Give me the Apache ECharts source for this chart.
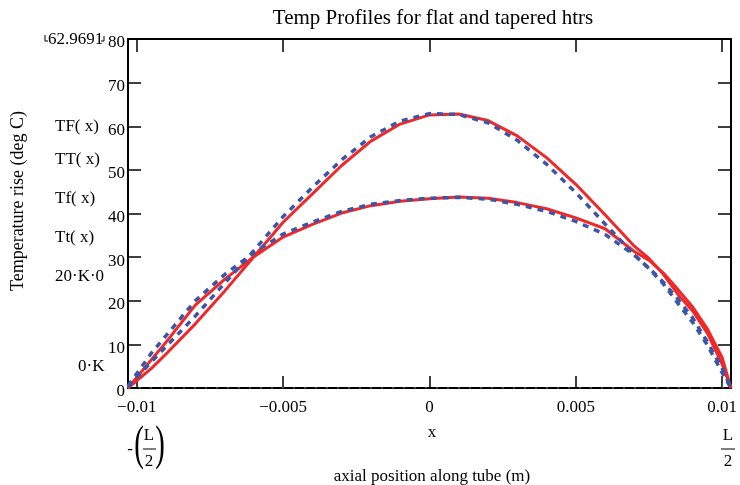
<!DOCTYPE html>
<html><head><meta charset="utf-8">
<script src="https://cdn.jsdelivr.net/npm/echarts@6/dist/echarts.min.js"></script>
<style>html,body{margin:0;padding:0;background:#fff}#c{width:740px;height:485px}</style>
</head><body><div id="c"></div>
<script>
// positions along tube (m)
var xPos = [-0.0103,-0.0095,-0.009,-0.008,-0.007,-0.006,-0.005,-0.004,-0.003,-0.002,-0.001,0,0.001,0.002,0.003,0.004,0.005,0.006,0.007,0.0075,0.008,0.0085,0.009,0.0095,0.01,0.0103];
// temperature rise (deg C)
var TF = [0,4.5,7.8,14.7,22.2,30.1,38,44.5,51,56.6,60.5,62.6,62.8,61.3,57.8,52.8,46.7,39.7,32.5,29.7,26,21.4,17.6,12.5,5.5,0];
var TT = [0.3,6,9.5,16.5,24,31.5,39.3,46,52.3,57.6,61.2,62.9,62.7,60.8,56.8,51.3,44.8,37.6,30.5,27.4,23.8,19.3,15,9.8,3.5,0];
var Tf = [0,6.5,10.5,19,24.9,30.1,34.6,37.5,40.1,41.8,42.8,43.4,43.8,43.5,42.5,41.1,39,36.5,31.3,29.3,26.3,22.5,18.5,13.5,7,0];
var Tt = [0.5,8,12,20,26,31,35.3,38,40.5,42.1,43,43.5,43.7,43.3,42.1,40.5,38.2,35.2,30.5,27.5,24.2,20.3,16,10.5,4.5,0];
var zeroLine = [0,0];
var zeroX = [-0.0103,0.0103];
var xTicks = [-0.01,-0.005,0,0.005,0.01];
var yMin = 0, yMax = 80, yStep = 10;
var xMin = -0.0103, xMax = 0.0103;

function pairs(xs, ys){ return xs.map(function(x,i){return [x, ys[i]];}); }
var FONT = 'Liberation Serif';
var red = '#f02828', blue = '#3b56a8';

var chart = echarts.init(document.getElementById('c'), null, {renderer:'canvas'});
function fmtX(v){
  if (Math.abs(v) < 1e-12) return '0';
  var s = String(Math.abs(Number(v.toFixed(4))));
  return (v < 0 ? '\u2212' : '') + s;
}
function txt(x,y,t,opt){
  opt = opt || {};
  return {type:'text', x:x, y:y, rotation:opt.rot||0, scaleX:opt.sx||1, z:10,
    style:{text:t, fill:'#000', font:(opt.size||17)+'px "'+FONT+'"', align:opt.align||'left', verticalAlign:'middle'}};
}
var option = {
  backgroundColor:'#fff',
  animation:false,
  grid:{left:128, right:7, top:39, bottom:97, show:false},
  xAxis:[{
    type:'value', min:xMin, max:xMax, position:'bottom',
    axisLine:{show:true, onZero:false, lineStyle:{color:'#000', width:2}},
    axisTick:{show:true, inside:true, length:12, customValues:xTicks, lineStyle:{color:'#000', width:1.5}},
    axisLabel:{show:true, customValues:xTicks, formatter:fmtX, margin:11, fontFamily:FONT, fontSize:17, color:'#000'},
    splitLine:{show:false}
  },{
    type:'value', min:xMin, max:xMax, position:'top',
    axisLine:{show:true, onZero:false, lineStyle:{color:'#000', width:2}},
    axisTick:{show:true, inside:true, length:13, customValues:xTicks, lineStyle:{color:'#000', width:1.5}},
    axisLabel:{show:false}, splitLine:{show:false}
  }],
  yAxis:[{
    type:'value', min:yMin, max:yMax, interval:yStep, position:'left',
    axisLine:{show:true, onZero:false, lineStyle:{color:'#000', width:2}},
    axisTick:{show:true, inside:true, length:13, lineStyle:{color:'#000', width:1.5}},
    axisLabel:{show:true, margin:3, color:'#000',
      formatter:function(v){return '{v|' + v + '}';},
      rich:{v:{fontFamily:FONT, fontSize:17, color:'#000', padding:[8,0,0,0]}}},
    splitLine:{show:false}
  },{
    type:'value', min:yMin, max:yMax, interval:yStep, position:'right',
    axisLine:{show:true, onZero:false, lineStyle:{color:'#000', width:2}},
    axisTick:{show:true, inside:true, length:13, lineStyle:{color:'#000', width:1.5}},
    axisLabel:{show:false}, splitLine:{show:false}
  }],
  series:[
    {name:'20·K·0', type:'line', data:pairs(zeroX, zeroLine), symbol:'none', z:3,
      lineStyle:{color:'#999', width:1, type:[2,9]}},
    {name:'TF(x)', type:'line', data:pairs(xPos, TF), symbol:'none', z:4,
      lineStyle:{color:red, width:3}},
    {name:'TT(x)', type:'line', data:pairs(xPos, TT), symbol:'none', z:5,
      lineStyle:{color:blue, width:3.5, type:[6,6]}},
    {name:'Tf(x)', type:'line', data:pairs(xPos, Tf), symbol:'none', z:4,
      lineStyle:{color:red, width:3}},
    {name:'Tt(x)', type:'line', data:pairs(xPos, Tt), symbol:'none', z:5,
      lineStyle:{color:blue, width:3.5, type:[6,6]}}
  ],
  graphic:[
    txt(433,18,'Temp Profiles for flat and tapered htrs',{size:21, align:'center'}),
    txt(18,201,'Temperature rise (deg C)',{size:18, align:'center', rot:Math.PI/2}),
    txt(48,40,'62.9691',{size:17}),
    {type:'polyline', shape:{points:[[45,35],[45,41],[48,41]]}, style:{stroke:'#000', lineWidth:1, fill:null}},
    {type:'polyline', shape:{points:[[101,41],[104,41],[104,36]]}, style:{stroke:'#000', lineWidth:1, fill:null}},
    txt(55,127,'TF( x)'),
    txt(55,160,'TT( x)'),
    txt(55,199,'Tf( x)'),
    txt(55,238,'Tt( x)'),
    txt(55,277,'20·K·0'),
    txt(78,367,'0·K'),
    txt(432,433,'x',{align:'center'}),
    txt(432,477,'axial position along tube (m)',{align:'center'}),
    // -(L/2)
    txt(130,450,'-',{align:'center'}),
    txt(139,446,'(',{size:48, align:'center', sx:0.6}),
    txt(149,436,'L',{align:'center'}),
    {type:'line', shape:{x1:143,y1:449,x2:156,y2:449}, style:{stroke:'#000', lineWidth:1}},
    txt(149,462,'2',{align:'center'}),
    txt(160,446,')',{size:48, align:'center', sx:0.6}),
    // L/2
    txt(728,436,'L',{align:'center'}),
    {type:'line', shape:{x1:721,y1:449,x2:735,y2:449}, style:{stroke:'#000', lineWidth:1}},
    txt(728,462,'2',{align:'center'})
  ]
};
chart.setOption(option);
</script></body></html>
